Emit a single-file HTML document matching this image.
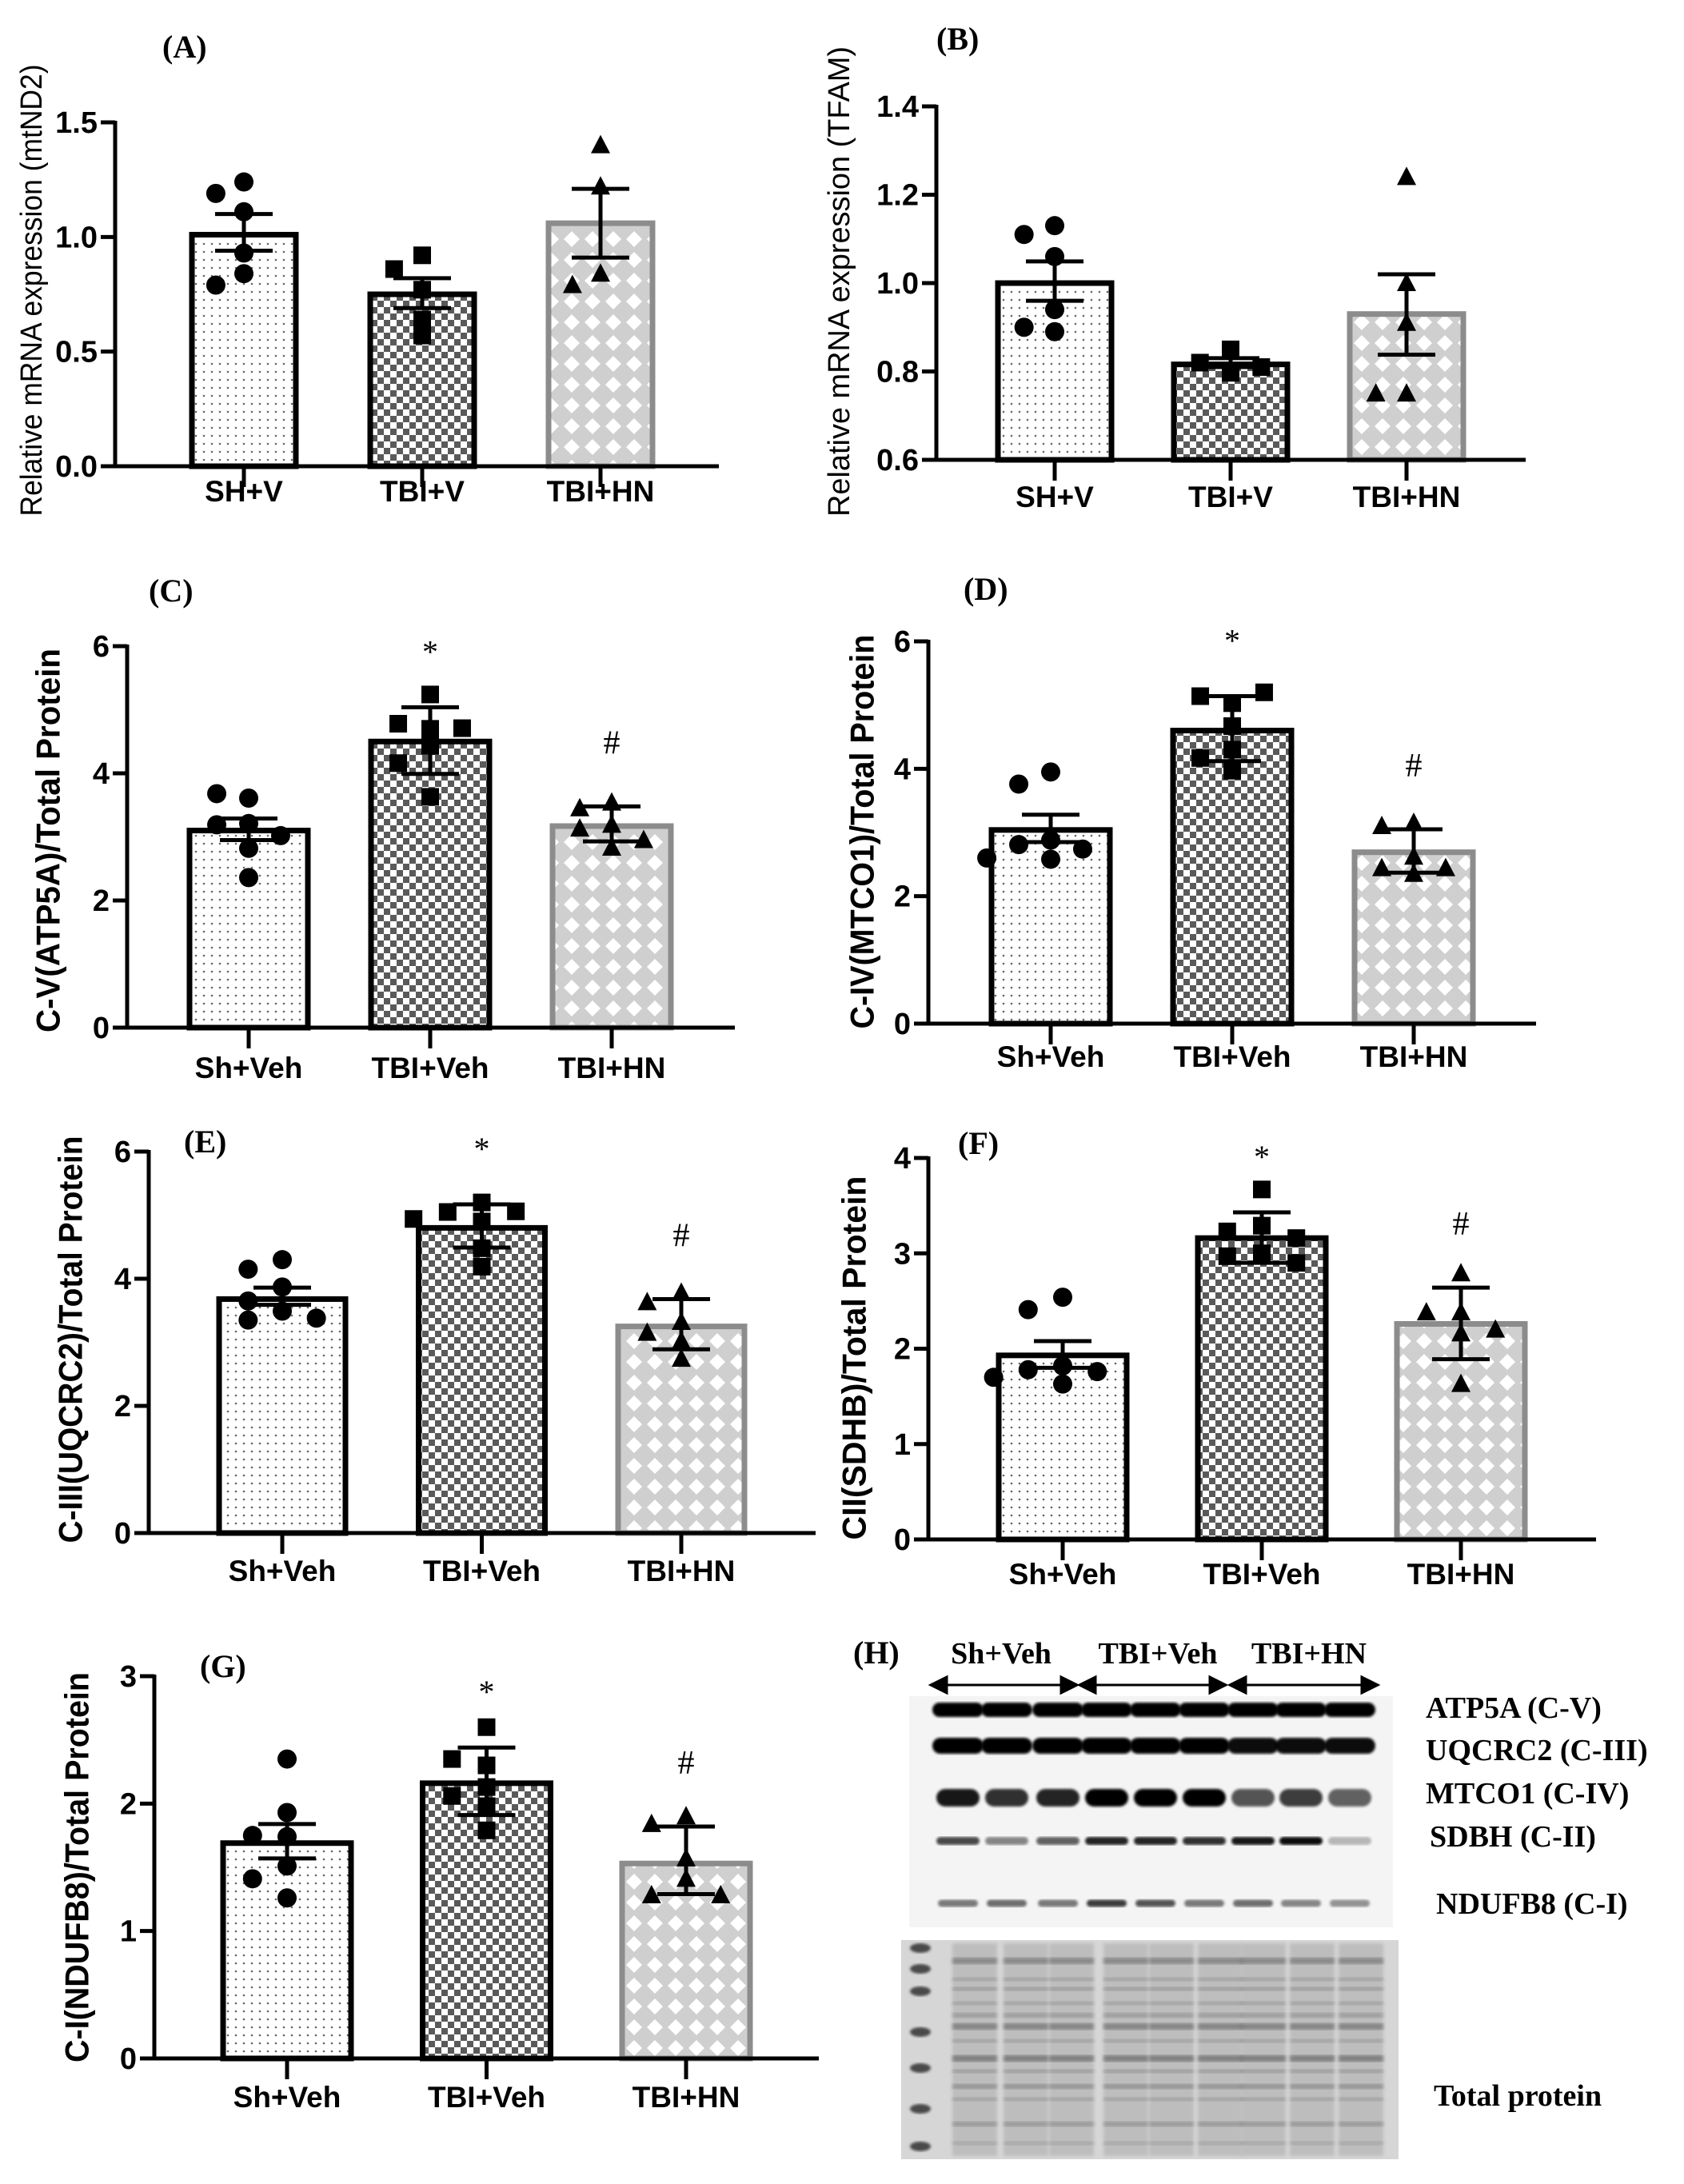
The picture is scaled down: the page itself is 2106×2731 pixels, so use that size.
<!DOCTYPE html>
<html><head><meta charset="utf-8"><title>Mitochondrial complexes figure</title>
<style>
html,body{margin:0;padding:0;background:#fff;}
svg{display:block;}
</style></head>
<body>
<svg id="fig" xmlns="http://www.w3.org/2000/svg" width="2106" height="2731" viewBox="0 0 2106 2731">
<defs>
<pattern id="pDots" patternUnits="userSpaceOnUse" width="10" height="10"><rect width="10" height="10" fill="#fff"/><circle cx="5" cy="5" r="1.3" fill="#666"/></pattern>
<pattern id="pChk" patternUnits="userSpaceOnUse" width="16" height="16"><rect width="16" height="16" fill="#fff"/><rect width="8" height="8" fill="#5a5a5a"/><rect x="8" y="8" width="8" height="8" fill="#5a5a5a"/></pattern>
<pattern id="pDia" patternUnits="userSpaceOnUse" width="26" height="26"><rect width="26" height="26" fill="#cfcfcf"/><path d="M13 3 L23 13 L13 23 L3 13 Z" fill="#fff"/></pattern>
<filter id="blur2"><feGaussianBlur stdDeviation="2.2"/></filter>
<filter id="blur1"><feGaussianBlur stdDeviation="1.6"/></filter>
</defs>
<g id="charts"></g>
<g id="blot"></g>
</svg>
<script>
const NS='http://www.w3.org/2000/svg';
// ---------- DATA ----------
const catsA=['SH+V','TBI+V','TBI+HN'];
const catsC=['Sh+Veh','TBI+Veh','TBI+HN'];
const ticksA=[0,0.5,1.0,1.5];
const tickLabelsA=['0.0','0.5','1.0','1.5'];
const meansA=[1.01,0.75,1.06];
const hiA=[1.10,0.82,1.21];
const loA=[0.94,0.69,0.91];
const ptsA=[[1.24,1.19,1.11,0.93,0.84,0.79],[0.92,0.86,0.77,0.64,0.57],[1.40,1.22,0.84,0.79]];

const ticksB=[0.6,0.8,1.0,1.2,1.4];
const tickLabelsB=['0.6','0.8','1.0','1.2','1.4'];
const meansB=[1.00,0.816,0.93];
const hiB=[1.049,0.83,1.02];
const loB=[0.96,0.81,0.838];
const ptsB=[[1.13,1.11,1.06,0.94,0.89,0.90],[0.797,0.82,0.85,0.81],[1.24,1.0,0.91,0.75,0.75]];

const ticks6=[0,2,4,6];
const tickLabels6=['0','2','4','6'];
const meansC=[3.10,4.50,3.17];
const hiC=[3.29,5.04,3.48];
const loC=[2.95,3.99,2.93];
const ptsC=[[3.61,3.68,3.21,3.19,3.02,2.82,2.36],[5.24,4.70,4.78,4.71,4.43,4.16,3.63],[3.54,3.45,3.19,3.13,2.95,2.83]];

const meansD=[3.04,4.60,2.69];
const hiD=[3.28,5.14,3.05];
const loD=[2.85,4.12,2.37];
const ptsD=[[3.95,3.76,2.88,2.81,2.74,2.58,2.60],[5.03,5.14,5.20,4.67,4.30,4.17,3.97],[3.15,3.10,2.62,2.44,2.35,2.44]];

const meansE=[3.68,4.80,3.25];
const hiE=[3.86,5.17,3.68];
const loE=[3.59,4.49,2.89];
const ptsE=[[4.30,4.15,3.87,3.65,3.49,3.35,3.38],[5.20,5.05,5.06,4.94,4.90,4.48,4.19],[3.78,3.63,3.32,3.15,3.02,2.74]];

const ticks4=[0,1,2,3,4];
const tickLabels4=['0','1','2','3','4'];
const meansF=[1.93,3.16,2.26];
const hiF=[2.08,3.43,2.64];
const loF=[1.80,2.90,1.89];
const ptsF=[[2.54,2.41,1.82,1.78,1.76,1.70,1.63],[3.67,3.29,3.23,3.16,3.00,2.97,2.90],[2.79,2.38,2.38,2.20,2.16,1.63]];

const ticks3=[0,1,2,3];
const tickLabels3=['0','1','2','3'];
const meansG=[1.69,2.16,1.53];
const hiG=[1.84,2.44,1.82];
const loG=[1.57,1.91,1.29];
const ptsG=[[2.35,1.93,1.74,1.75,1.51,1.41,1.26],[2.60,2.30,2.35,2.13,2.06,1.98,1.79],[1.90,1.84,1.57,1.41,1.28,1.28]];

const annNone=['','',''];
const annSig=['','*','#'];

// ---------- LAYOUT ----------
const fills=['url(#pDots)','url(#pChk)','url(#pDia)'];
const strokes=['#000','#000','#8c8c8c'];
const markers=['circle','square','triangle'];

function el(tag,attrs,parent){const e=document.createElementNS(NS,tag);for(const k in attrs)e.setAttribute(k,attrs[k]);if(parent)parent.appendChild(e);return e;}

function drawPanel(id,cfg,cats,ticks,tickLabels,means,hi,lo,pts,ann){
  const root=document.getElementById('charts');
  const g=el('g',{},root);
  
  
  const yS=v=>cfg.y0-(v-cfg.min)/(cfg.max-cfg.min)*(cfg.y0-cfg.yTop);
  const xS=i=>cfg.c0+i*cfg.step;
  const t=el('text',{x:cfg.tx,y:cfg.ty,'font-family':'"Liberation Serif",serif','font-weight':'bold','font-size':40},g);
  t.textContent='('+id+')';
  
  
  const yl=el('text',{x:0,y:0,transform:`translate(${cfg.ylx},${cfg.yly}) rotate(-90)`,'text-anchor':'middle','dominant-baseline':'central','font-family':'"Liberation Sans",sans-serif','font-weight':cfg.ylw,'font-size':cfg.ylf,textLength:cfg.yll,lengthAdjust:'spacingAndGlyphs'},g);
  yl.textContent=cfg.ylabel;
  
  
  means.forEach((m,i)=>{
    const x=xS(i)-cfg.bw/2,y=yS(m);
    const r=el('rect',{x:x,y:y,width:cfg.bw,height:cfg.y0-y,fill:fills[i],stroke:strokes[i],'stroke-width':7},g);
    
    
  });
  const thr=0.045*(cfg.max-cfg.min);
  const off=cfg.bw*0.27;
  pts.forEach((arr,i)=>{
    const placed=[];
    arr.forEach(v=>{
      let col=0;
      for(const c of [0,-1,1,-2,2]){ if(!placed.some(p=>p.c===c&&Math.abs(p.v-v)<thr)){col=c;break;} }
      placed.push({c:col,v:v});
      const cx=xS(i)+col*off, cy=yS(v);
      let mk;
      if(markers[i]==='circle') mk=el('circle',{cx:cx,cy:cy,r:12,fill:'#000'},g);
      else if(markers[i]==='square') mk=el('rect',{x:cx-11,y:cy-11,width:22,height:22,fill:'#000'},g);
      else mk=el('path',{d:`M${cx} ${cy-13} L${cx+12} ${cy+10} L${cx-12} ${cy+10} Z`,fill:'#000'},g);
      
      
    });
  });
  means.forEach((m,i)=>{
    const cx=xS(i);
    const eb=el('path',{d:`M${cx} ${yS(hi[i])} L${cx} ${yS(lo[i])} M${cx-36} ${yS(hi[i])} L${cx+36} ${yS(hi[i])} M${cx-36} ${yS(lo[i])} L${cx+36} ${yS(lo[i])}`,stroke:'#000','stroke-width':5,fill:'none'},g);
    
    
    if(ann[i]){
      const a=el('text',{x:cx,y:yS(hi[i])-80+(ann[i]==='*'?24:14),'text-anchor':'middle','font-family':'"Liberation Serif",serif','font-size':ann[i]==='*'?40:42},g);
      a.textContent=ann[i];
      
      
    }
  });
  const ax=el('path',{d:`M${cfg.ax} ${cfg.yTop-2} L${cfg.ax} ${cfg.y0} L${cfg.xEnd} ${cfg.y0}`,stroke:'#000','stroke-width':5,fill:'none'},g);
  
  
  ticks.forEach((v,k)=>{
    const y=yS(v);
    el('line',{x1:cfg.ax-18,y1:y,x2:cfg.ax,y2:y,stroke:'#000','stroke-width':5},g);
    const tl=el('text',{x:cfg.ax-22,y:y+13,'text-anchor':'end','font-family':'"Liberation Sans",sans-serif','font-weight':'bold','font-size':38},g);
    tl.textContent=tickLabels[k];
    
    
  });
  cats.forEach((c,i)=>{
    const x=xS(i);
    el('line',{x1:x,y1:cfg.y0,x2:x,y2:cfg.y0+26,stroke:'#000','stroke-width':5},g);
    const cl=el('text',{x:x,y:cfg.cly,'text-anchor':'middle','font-family':'"Liberation Sans",sans-serif','font-weight':'bold','font-size':37},g);
    cl.textContent=c;
    
    
  });
}

drawPanel('A',{ax:144,y0:583,yTop:153,min:0,max:1.5,xEnd:899,c0:305,step:223,bw:130,cly:627,tx:203,ty:72,ylx:40,yly:363,ylf:38,ylw:'normal',yll:565,ylabel:'Relative mRNA expression (mtND2)'},catsA,ticksA,tickLabelsA,meansA,hiA,loA,ptsA,annNone);
drawPanel('B',{ax:1171,y0:575,yTop:133,min:0.6,max:1.4,xEnd:1908,c0:1319,step:220,bw:142,cly:634,tx:1171,ty:62,ylx:1050,yly:352,ylf:38,ylw:'normal',yll:588,ylabel:'Relative mRNA expression (TFAM)'},catsA,ticksB,tickLabelsB,meansB,hiB,loB,ptsB,annNone);
drawPanel('C',{ax:159,y0:1285,yTop:808,min:0,max:6,xEnd:919,c0:311,step:227,bw:148,cly:1348,tx:186,ty:752,ylx:60,yly:1051,ylf:42,ylw:'bold',yll:480,ylabel:'C-V(ATP5A)/Total Protein'},catsC,ticks6,tickLabels6,meansC,hiC,loC,ptsC,annSig);
drawPanel('D',{ax:1161,y0:1280,yTop:802,min:0,max:6,xEnd:1921,c0:1314,step:227,bw:148,cly:1334,tx:1205,ty:750,ylx:1078,yly:1040,ylf:42,ylw:'bold',yll:493,ylabel:'C-IV(MTCO1)/Total Protein'},catsC,ticks6,tickLabels6,meansD,hiD,loD,ptsD,annSig);
drawPanel('E',{ax:186,y0:1917,yTop:1440,min:0,max:6,xEnd:1020,c0:353,step:249.5,bw:158,cly:1977,tx:230,ty:1441,ylx:88,yly:1675,ylf:42,ylw:'bold',yll:509,ylabel:'C-III(UQCRC2)/Total Protein'},catsC,ticks6,tickLabels6,meansE,hiE,loE,ptsE,annSig);
drawPanel('F',{ax:1161,y0:1925,yTop:1448,min:0,max:4,xEnd:1996,c0:1329,step:249,bw:160,cly:1981,tx:1198,ty:1443,ylx:1068,yly:1698,ylf:42,ylw:'bold',yll:455,ylabel:'CII(SDHB)/Total Protein'},catsC,ticks4,tickLabels4,meansF,hiF,loF,ptsF,annSig);
drawPanel('G',{ax:193,y0:2574,yTop:2096,min:0,max:3,xEnd:1024,c0:359,step:249.5,bw:160,cly:2635,tx:250,ty:2097,ylx:96,yly:2335,ylf:42,ylw:'bold',yll:488,ylabel:'C-I(NDUFB8)/Total Protein'},catsC,ticks3,tickLabels3,meansG,hiG,loG,ptsG,annSig);

// ---------- BLOT (H) ----------
const blot=document.getElementById('blot');
const serif='"Liberation Serif",serif';
function txt(x,y,s,size,name,anchor){const t=el('text',{x:x,y:y,'font-family':serif,'font-weight':'bold','font-size':size,'text-anchor':anchor||'start'},blot);t.textContent=s;return t;}
txt(1067,2080,'(H)',40,'panel-label-h');
txt(1252,2080,'Sh+Veh',38,'group-label-sh-veh','middle');
txt(1448,2080,'TBI+Veh',38,'group-label-tbi-veh','middle');
txt(1637,2080,'TBI+HN',38,'group-label-tbi-hn','middle');
[[1164,1347],[1350,1533],[1538,1723]].forEach(([a,b])=>{
  const y=2107;
  const ar=el('path',{d:`M${a+18} ${y} L${b-18} ${y} M${a} ${y} L${a+20} ${y-10} L${a+20} ${y+10} Z M${b} ${y} L${b-20} ${y-10} L${b-20} ${y+10} Z`,stroke:'#000','stroke-width':3,fill:'#000'},blot);
  
  
});
const g1=el('rect',{x:1137,y:2121,width:605,height:289,fill:'#f4f4f4'},blot);


const lanes=[1198,1259,1323,1384,1445,1506,1567,1627,1688];
const rows=[
 {y:2138,h:18,w:64,op:[1,1,1,1,1,1,1,1,1]},
 {y:2183,h:20,w:64,op:[1,1,1,1,1,1,0.95,0.95,0.95]},
 {y:2248,h:22,w:54,op:[0.9,0.8,0.85,1,1,1,0.65,0.75,0.6]},
 {y:2302,h:10,w:54,op:[0.7,0.45,0.6,0.85,0.85,0.8,0.9,0.95,0.25]},
 {y:2380,h:9,w:50,op:[0.5,0.55,0.5,0.75,0.65,0.5,0.55,0.45,0.4]}
];
rows.forEach(r=>lanes.forEach((x,i)=>{
  el('rect',{x:x-r.w/2,y:r.y-r.h/2,width:r.w,height:r.h,rx:r.h/2,fill:'#000',opacity:r.op[i],filter:'url(#blur1)'},blot);
}));
txt(1783,2148,'ATP5A (C-V)',38,'band-label-atp5a');
txt(1783,2201,'UQCRC2 (C-III)',38,'band-label-uqcrc2');
txt(1783,2255,'MTCO1 (C-IV)',38,'band-label-mtco1');
txt(1788,2309,'SDBH (C-II)',38,'band-label-sdbh');
txt(1796,2393,'NDUFB8 (C-I)',38,'band-label-ndufb8');
const g2=el('rect',{x:1127,y:2426,width:622,height:274,fill:'#d6d6d6'},blot);


const lanes2=[1219,1283,1340,1408,1465,1526,1580,1641,1702];
lanes2.forEach(x=>el('rect',{x:x-28,y:2430,width:56,height:266,fill:'#bdbdbd',filter:'url(#blur2)'},blot));
const bands2=[[2452,0.5,8],[2475,0.25,5],[2487,0.3,5],[2505,0.25,5],[2520,0.3,6],[2534,0.55,8],[2552,0.25,5],[2574,0.6,8],[2590,0.3,5],[2609,0.4,6],[2625,0.25,5],[2656,0.35,6],[2680,0.2,5]];
lanes2.forEach(x=>bands2.forEach(([y,o,h])=>el('rect',{x:x-28,y:y-h/2,width:56,height:h,fill:'#555',opacity:o,filter:'url(#blur2)'},blot)));
[2436,2462,2490,2541,2586,2637,2684].forEach(y=>el('ellipse',{cx:1151,cy:y,rx:13,ry:6,fill:'#333',opacity:0.85,filter:'url(#blur1)'},blot));
txt(1793,2633,'Total protein',38,'total-protein-label');
</script>
</body></html>
